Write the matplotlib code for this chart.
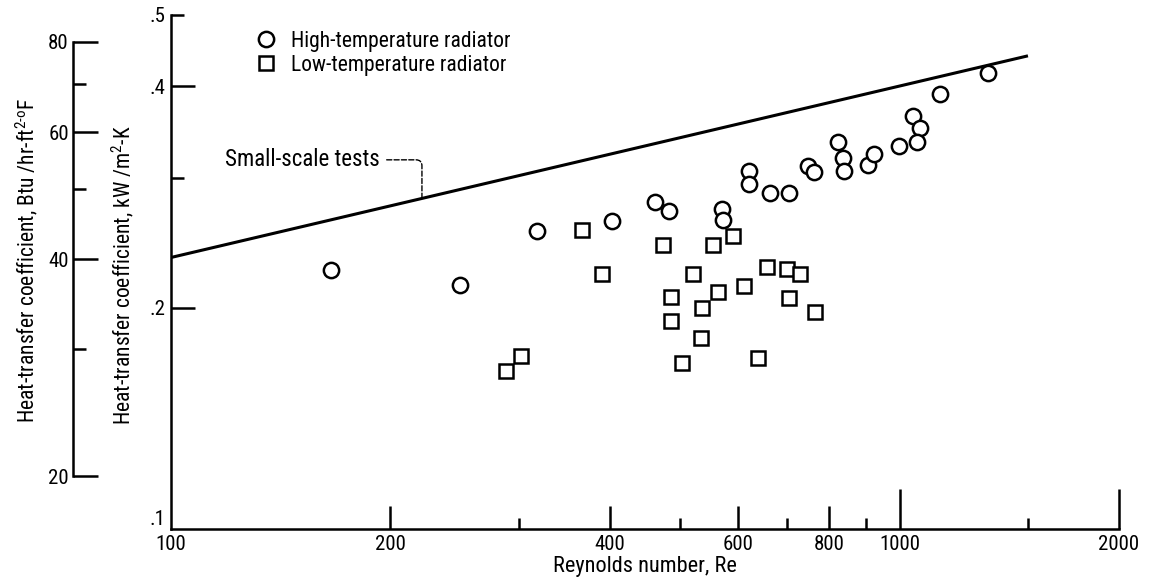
import numpy as np
import matplotlib
matplotlib.use("Agg")
import matplotlib.pyplot as plt
from matplotlib.lines import Line2D
from matplotlib import font_manager

# pick a narrow sans if it exists, else DejaVu
names = {f.name for f in font_manager.fontManager.ttflist}
family = ["DejaVu Sans"]
for cand in ["Liberation Sans Narrow", "DejaVu Sans Condensed", "Roboto Condensed"]:
    if cand in names:
        family = [cand, "DejaVu Sans"]
        break
plt.rcParams["font.family"] = family
plt.rcParams["mathtext.fontset"] = "custom"
plt.rcParams["mathtext.rm"] = family[0]

# high-temperature radiator (circles)
HIGH_RE = [166, 249, 318, 403, 461, 482, 571, 573, 622, 622, 663, 706, 748, 764,
           822, 835, 838, 904, 921, 997, 1042, 1065, 1055, 1135, 1321]
HIGH_H = [0.225, 0.215, 0.254, 0.262, 0.278, 0.271, 0.272, 0.263, 0.307, 0.295,
          0.286, 0.286, 0.312, 0.306, 0.336, 0.320, 0.307, 0.313, 0.324, 0.332,
          0.364, 0.351, 0.336, 0.391, 0.417]

# low-temperature radiator (squares)
LOW_RE = [288, 302, 367, 391, 474, 485, 486, 502, 521, 533, 536, 555, 564, 590,
          611, 640, 657, 700, 704, 731, 765]
LOW_H = [0.164, 0.172, 0.255, 0.222, 0.243, 0.207, 0.192, 0.168, 0.222, 0.182,
         0.200, 0.243, 0.210, 0.250, 0.214, 0.171, 0.227, 0.226, 0.206, 0.222,
         0.197]

# small-scale tests correlation line (end points)
SMALL_RE = [100, 1500]
SMALL_H = [0.234, 0.44]

X_TICKS = [100, 200, 400, 600, 800, 1000, 2000]
X_MINOR = [300, 500, 700, 900, 1500]
Y_TICKS = [0.1, 0.2, 0.4, 0.5]
Y_TICKLABELS = [".1", ".2", ".4", ".5"]
Y_MINOR = [0.3]
BTU_TICKS = [20, 40, 60, 80]
BTU_MINOR = [30, 50, 70]
BTU_LIM = (16.9, 87.2)

W, H = 1152, 582
fig = plt.figure(figsize=(W / 100, H / 100), dpi=100)

L, R, B, T = 171, 1119, 529, 15
ax = fig.add_axes([L / W, 1 - B / H, (R - L) / W, (B - T) / H])
ax.set_xscale("log")
ax.set_yscale("log")
ax.set_xlim(100, 2000)
ax.set_ylim(0.1, 0.5)

lw = 1.8
for s in ["top", "right"]:
    ax.spines[s].set_visible(False)
for s in ["left", "bottom"]:
    ax.spines[s].set_linewidth(lw)

ax.set_xticks(X_TICKS)
ax.set_xticklabels([str(t) for t in X_TICKS])
ax.set_xticks(X_MINOR, minor=True)
ax.set_xticklabels([], minor=True)
ax.set_yticks(Y_TICKS)
ax.set_yticklabels(Y_TICKLABELS)
ax.set_yticks(Y_MINOR, minor=True)
ax.set_yticklabels([], minor=True)

ax.tick_params(which="both", direction="in", width=lw, labelsize=15)
ax.tick_params(axis="x", which="major", length=16.5, pad=4)
ax.tick_params(axis="x", which="minor", length=8)
ax.tick_params(axis="y", which="major", length=17, pad=4)
ax.tick_params(axis="y", which="minor", length=9.5)

# per-tick lengths: decade ticks taller, corner ticks hidden
for t in ax.xaxis.get_major_ticks():
    v = t.get_loc()
    if v in (1000, 2000):
        t.tick1line.set_markersize(29)
    if v == 100:
        t.tick1line.set_markersize(0)
for t in ax.yaxis.get_major_ticks():
    v = t.get_loc()
    if np.isclose(v, 0.5):
        t.tick1line.set_markersize(9.5)
    if np.isclose(v, 0.1):
        t.tick1line.set_markersize(0)
        t.label1.set_verticalalignment("bottom")  # sit above the "100"

ax.set_xlabel("Reynolds number, Re", fontsize=16, labelpad=2)

# correlation line
ax.plot(SMALL_RE, SMALL_H, color="black", lw=2.2, solid_capstyle="butt")

# data
ax.plot(HIGH_RE, HIGH_H, linestyle="none", marker="o", markersize=11,
        markerfacecolor="white", markeredgecolor="black", markeredgewidth=1.8)
ax.plot(LOW_RE, LOW_H, linestyle="none", marker="s", markersize=10.5,
        markerfacecolor="white", markeredgecolor="black", markeredgewidth=1.8)

# leader to the line
lead_re = 221
lead_h = 10 ** np.interp(np.log10(lead_re), np.log10(SMALL_RE), np.log10(SMALL_H))
ax.annotate("Small-scale tests", xy=(lead_re, lead_h), xytext=(118.6, 0.3177),
            fontsize=16.5, ha="left", va="center",
            arrowprops=dict(arrowstyle="-", linestyle="--", lw=1.0, color="black",
                            connectionstyle="angle,angleA=0,angleB=90,rad=6",
                            shrinkA=3, shrinkB=0))

handles = [
    Line2D([], [], linestyle="none", marker="o", markersize=11, markerfacecolor="white",
           markeredgecolor="black", markeredgewidth=1.8),
    Line2D([], [], linestyle="none", marker="s", markersize=10.5, markerfacecolor="white",
           markeredgecolor="black", markeredgewidth=1.8),
]
ax.legend(handles, ["High-temperature radiator", "Low-temperature radiator"],
          loc="upper left", bbox_to_anchor=(255 / W, 1 - 31 / H),
          bbox_transform=fig.transFigure, frameon=False, fontsize=15.5,
          handlelength=1.0, handletextpad=0.65, labelspacing=0.12, borderpad=0,
          borderaxespad=0)

# second scale in Btu/hr-ft2-F
BL = 73
ax2 = fig.add_axes([BL / W, 1 - B / H, 1 / W, (B - T) / H])
ax2.set_yscale("log")
ax2.set_ylim(*BTU_LIM)
ax2.patch.set_visible(False)
for s in ["top", "right", "bottom"]:
    ax2.spines[s].set_visible(False)
ax2.spines["left"].set_linewidth(lw)
ax2.spines["left"].set_bounds(BTU_TICKS[0], BTU_TICKS[-1])
ax2.set_xticks([])
ax2.set_yticks(BTU_TICKS)
ax2.set_yticklabels([str(t) for t in BTU_TICKS])
ax2.set_yticks(BTU_MINOR, minor=True)
ax2.set_yticklabels([], minor=True)
ax2.tick_params(which="both", direction="in", width=lw, labelsize=15)
ax2.tick_params(axis="y", which="major", length=18, pad=3)
ax2.tick_params(axis="y", which="minor", length=9.5)

fig.text(27 / W, 1 - 260 / H,
         r"Heat-transfer coefficient, Btu /hr-ft$^{\mathrm{2\text{-}o}}$F",
         rotation=90, ha="center", va="center", fontsize=15.5)
fig.text(123 / W, 1 - 275 / H,
         r"Heat-transfer coefficient, kW /m$^{\mathrm{2}}$-K",
         rotation=90, ha="center", va="center", fontsize=15.5)

fig.savefig("out.png", dpi=100)
